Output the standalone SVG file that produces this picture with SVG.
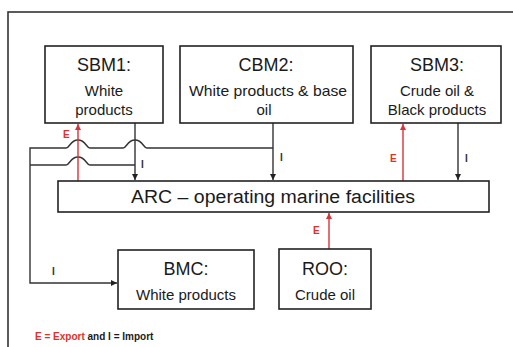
<svg xmlns="http://www.w3.org/2000/svg" width="513" height="347" viewBox="0 0 513 347">
<style>
  .box{fill:#fff;stroke:#222;stroke-width:1.6}
  .t{font-family:"Liberation Sans",Arial,sans-serif;fill:#1a1a1a;text-anchor:middle}
  .ttl{font-size:18px}
  .sub{font-size:15px}
  .arc{font-size:18px}
  .blk{fill:none;stroke:#333;stroke-width:1.4}
  .red{fill:none;stroke:#d8333a;stroke-width:1.4}
  .lbl{font-family:"Liberation Sans",Arial,sans-serif;font-size:10px;font-weight:bold}
</style>
<defs>
  <marker id="ab" markerUnits="userSpaceOnUse" markerWidth="8" markerHeight="8" refX="6" refY="3" orient="auto">
    <path d="M0,0 L6,3 L0,6 Z" fill="#222"/>
  </marker>
  <marker id="ar" markerUnits="userSpaceOnUse" markerWidth="8" markerHeight="8" refX="6" refY="3" orient="auto">
    <path d="M0,0 L6,3 L0,6 Z" fill="#d8333a"/>
  </marker>
</defs>
<rect width="513" height="347" fill="#fff"/>
<rect x="8" y="12" width="520" height="350" fill="none" stroke="#333" stroke-width="1.6"/>

<g id="connectors">
  <path class="blk" d="M273,148 H147 C143,148 143,140 135,140 C127,140 127,148 123,148 H90 C86,148 86,140 78,140 C70,140 70,148 66,148 H30 V283 H117" marker-end="url(#ab)"/>
  <path class="blk" d="M135,165 H90 C86,165 86,157 78,157 C70,157 70,165 66,165 H30"/>
  <line class="blk" x1="135" y1="123" x2="135" y2="180" marker-end="url(#ab)"/>
  <line class="blk" x1="273" y1="123" x2="273" y2="180" marker-end="url(#ab)"/>
  <line class="blk" x1="458" y1="123" x2="458" y2="180" marker-end="url(#ab)"/>
  <line class="red" x1="78" y1="181" x2="78" y2="124" marker-end="url(#ar)"/>
  <line class="red" x1="403" y1="181" x2="403" y2="124" marker-end="url(#ar)"/>
  <line class="red" x1="329" y1="249" x2="329" y2="213" marker-end="url(#ar)"/>
  <text class="lbl" x="63" y="138" fill="#e0302a">E</text>
  <text class="lbl" x="141" y="168" fill="#333">I</text>
  <text class="lbl" x="280" y="161" fill="#333">I</text>
  <text class="lbl" x="390" y="162" fill="#e0302a">E</text>
  <text class="lbl" x="465" y="162" fill="#333">I</text>
  <text class="lbl" x="313" y="234" fill="#e0302a">E</text>
  <text class="lbl" x="52" y="275" fill="#333">I</text>
</g>

<g id="sbm1">
  <rect class="box" x="45" y="46" width="118" height="77"/>
  <text class="t ttl" x="104" y="71">SBM1:</text>
  <text class="t sub" x="104" y="96">White</text>
  <text class="t sub" x="104" y="115">products</text>
</g>
<g id="cbm2">
  <rect class="box" x="180" y="46" width="173" height="77"/>
  <text class="t ttl" x="266" y="71">CBM2:</text>
  <text class="t sub" x="268" y="96" textLength="158" lengthAdjust="spacingAndGlyphs">White products &amp; base</text>
  <text class="t sub" x="264" y="115">oil</text>
</g>
<g id="sbm3">
  <rect class="box" x="371" y="46" width="130" height="77"/>
  <text class="t ttl" x="437" y="71">SBM3:</text>
  <text class="t sub" x="437" y="96">Crude oil &amp;</text>
  <text class="t sub" x="437" y="115">Black products</text>
</g>
<g id="arc">
  <rect class="box" x="58" y="181" width="431" height="31"/>
  <text class="t arc" x="273" y="203" textLength="284" lengthAdjust="spacingAndGlyphs">ARC – operating marine facilities</text>
</g>
<g id="bmc">
  <rect class="box" x="118" y="250" width="136" height="59"/>
  <text class="t ttl" x="186" y="275">BMC:</text>
  <text class="t sub" x="186" y="300">White products</text>
</g>
<g id="roo">
  <rect class="box" x="279" y="249" width="92" height="60"/>
  <text class="t ttl" x="325" y="275">ROO:</text>
  <text class="t sub" x="325" y="300">Crude oil</text>
</g>
<g id="legend">
  <text class="lbl" x="35" y="340"><tspan fill="#e0302a">E = Export</tspan><tspan fill="#1a1a1a"> and I = Import</tspan></text>
</g>
</svg>
